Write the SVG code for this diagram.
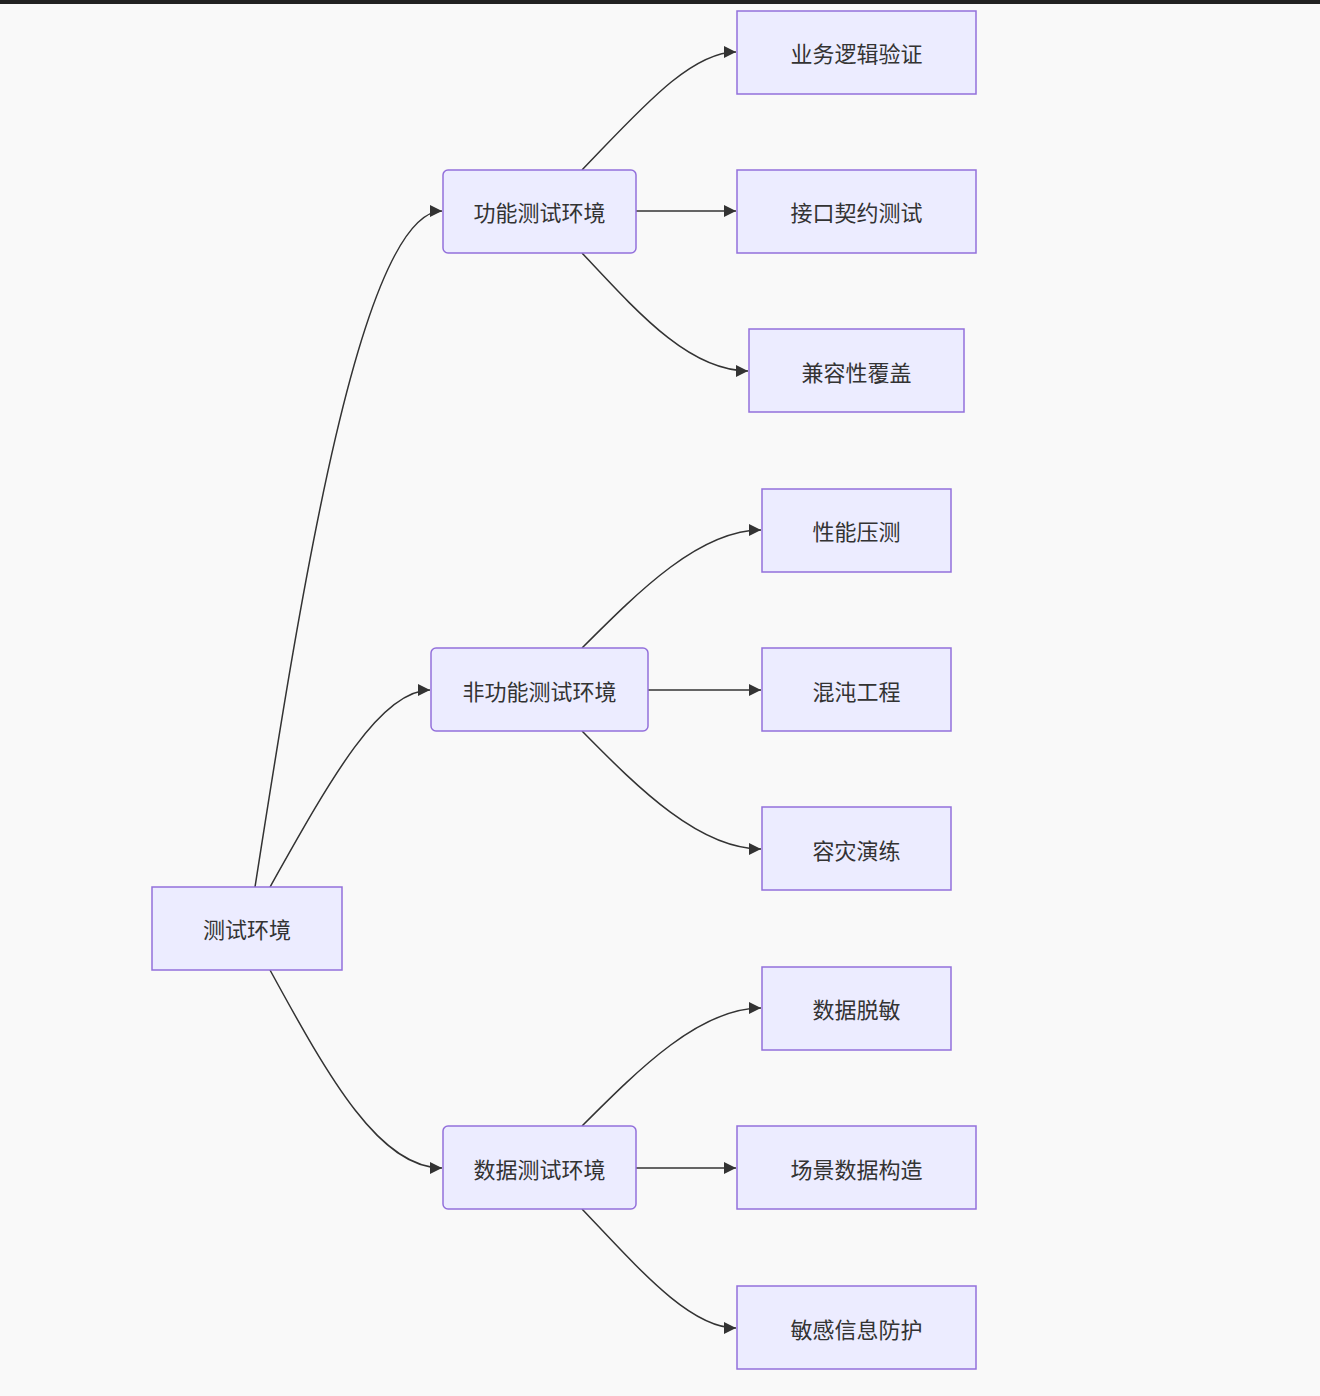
<svg xmlns="http://www.w3.org/2000/svg" width="1320" height="1396" viewBox="0 0 1320 1396">
<defs>
<marker id="ah" viewBox="0 0 10 10" refX="10" refY="5" markerWidth="12" markerHeight="12" markerUnits="userSpaceOnUse" orient="auto"><path d="M0,0 L10,5 L0,10 z" fill="#333"/></marker>
</defs>
<style>
.n{fill:#ececff;stroke:#9370db;stroke-width:1.5}
.t{font-family:"Noto Sans CJK SC","Noto Sans",sans-serif;font-size:22px;fill:#333;text-anchor:middle;dominant-baseline:central}
.e{fill:none;stroke:#333;stroke-width:1.5;marker-end:url(#ah)}
</style>
<rect width="1320" height="1396" fill="#f9f9f9"/>
<rect width="1320" height="4" fill="#222"/>
<g id="connectors">
<path class="e" d="M255,887 C300,600 360,211 442,211"/>
<path class="e" d="M270,887 C330,780 380,690 430,690"/>
<path class="e" d="M270,970 C330,1080 380,1168 442,1168"/>
<path class="e" d="M582,170 C640,110 690,52 736,52"/>
<path class="e" d="M636,211 L736,211"/>
<path class="e" d="M582,253 C640,315 690,371 748,371"/>
<path class="e" d="M582,648 C640,590 700,530 761,530"/>
<path class="e" d="M648,690 L761,690"/>
<path class="e" d="M582,731 C640,790 700,849 761,849"/>
<path class="e" d="M582,1126 C640,1068 700,1008 761,1008"/>
<path class="e" d="M636,1168 L736,1168"/>
<path class="e" d="M582,1209 C640,1270 690,1328 736,1328"/>
</g>
<g id="root"><rect class="n" x="152" y="887" width="190" height="83"/><text class="t" x="247" y="928">测试环境</text></g>
<g id="func"><rect class="n" x="443" y="170" width="193" height="83" rx="5"/><text class="t" x="539.5" y="211">功能测试环境</text></g>
<g id="nonfunc"><rect class="n" x="431" y="648" width="217" height="83" rx="5"/><text class="t" x="539.5" y="690">非功能测试环境</text></g>
<g id="data"><rect class="n" x="443" y="1126" width="193" height="83" rx="5"/><text class="t" x="539.5" y="1168">数据测试环境</text></g>
<g id="l1"><rect class="n" x="737" y="11" width="239" height="83"/><text class="t" x="856.5" y="52">业务逻辑验证</text></g>
<g id="l2"><rect class="n" x="737" y="170" width="239" height="83"/><text class="t" x="856.5" y="211">接口契约测试</text></g>
<g id="l3"><rect class="n" x="749" y="329" width="215" height="83"/><text class="t" x="856.5" y="371">兼容性覆盖</text></g>
<g id="l4"><rect class="n" x="762" y="489" width="189" height="83"/><text class="t" x="856.5" y="530">性能压测</text></g>
<g id="l5"><rect class="n" x="762" y="648" width="189" height="83"/><text class="t" x="856.5" y="690">混沌工程</text></g>
<g id="l6"><rect class="n" x="762" y="807" width="189" height="83"/><text class="t" x="856.5" y="849">容灾演练</text></g>
<g id="l7"><rect class="n" x="762" y="967" width="189" height="83"/><text class="t" x="856.5" y="1008">数据脱敏</text></g>
<g id="l8"><rect class="n" x="737" y="1126" width="239" height="83"/><text class="t" x="856.5" y="1168">场景数据构造</text></g>
<g id="l9"><rect class="n" x="737" y="1286" width="239" height="83"/><text class="t" x="856.5" y="1328">敏感信息防护</text></g>
</svg>
